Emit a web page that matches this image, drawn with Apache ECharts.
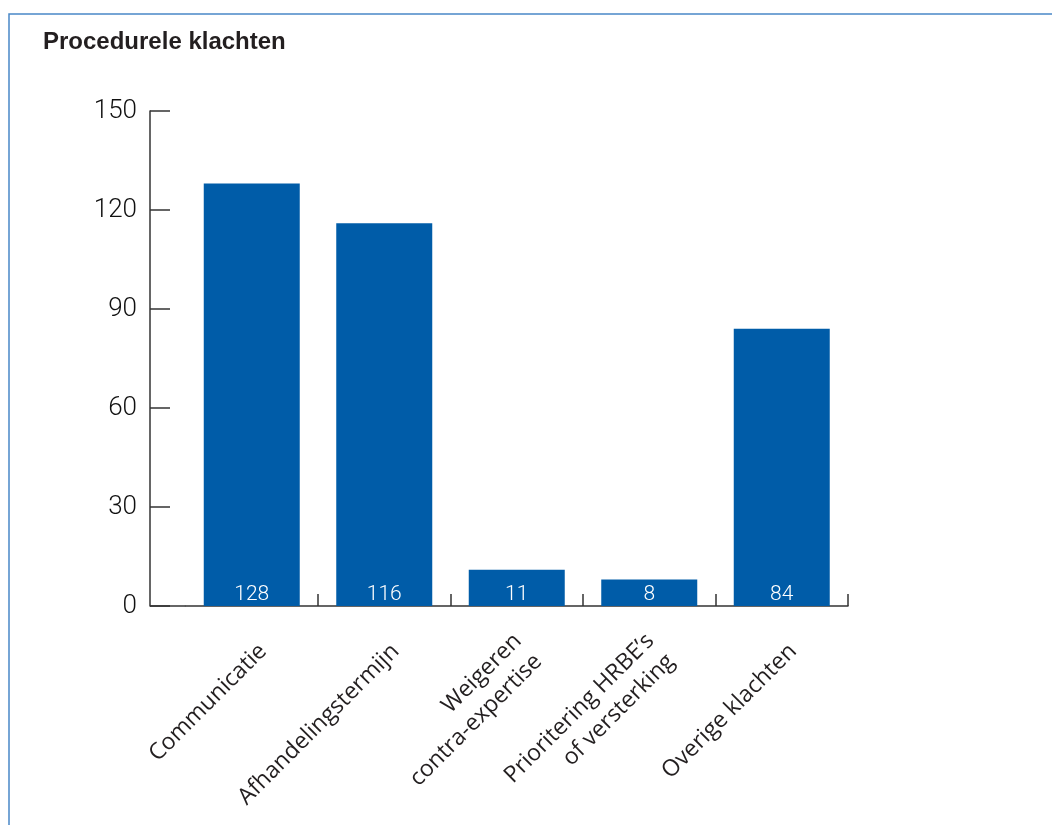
<!DOCTYPE html>
<html>
<head>
<meta charset="utf-8">
<script src="https://cdn.jsdelivr.net/npm/echarts@6/dist/echarts.min.js"></script>
<style>
html,body{margin:0;padding:0;background:#fff;}
#chart{width:1052px;height:825px;}
</style>
</head>
<body>
<div id="chart"></div>
<script>
var categories = ['Communicatie', 'Afhandelingstermijn', 'Weigeren\ncontra-expertise', 'Prioritering HRBE\u2019s\nof versterking', 'Overige klachten'];
var values = [128, 116, 11, 8, 84];
var yTicks = [0, 30, 60, 90, 120, 150];

var GRID_LEFT = 185.5, GRID_RIGHT = 204, GRID_TOP = 111, GRID_BOTTOM = 219, Y_OFFSET = 35.5;
var chart = echarts.init(document.getElementById('chart'), null, {renderer: 'canvas'});
var axisColor = '#333333';
var option = {
  animation: false,
  backgroundColor: '#ffffff',
  title: {
    text: 'Procedurele klachten',
    left: 38, top: 25,
    textStyle: {fontFamily: 'Liberation Sans', fontWeight: 'bold', fontSize: 24, color: '#231f20'}
  },
  graphic: [
    {type: 'rect', silent: true, shape: {x: 9, y: 14, width: 2000, height: 2000},
     style: {fill: 'none', stroke: '#4a88c7', lineWidth: 1.5}},
    {type: 'line', silent: true,
     shape: {x1: GRID_LEFT - Y_OFFSET, y1: 825 - GRID_BOTTOM, x2: GRID_LEFT, y2: 825 - GRID_BOTTOM},
     style: {stroke: axisColor, lineWidth: 1.5}}
  ],
  grid: {left: GRID_LEFT, right: GRID_RIGHT, top: GRID_TOP, bottom: GRID_BOTTOM, containLabel: false},
  xAxis: {
    type: 'category',
    data: categories,
    boundaryGap: true,
    axisLine: {show: true, lineStyle: {color: axisColor, width: 1.5}},
    axisTick: {show: true, inside: true, length: 12, lineStyle: {color: axisColor, width: 1.5},
      interval: function (index) { return index !== 0; }},
    axisLabel: {
      rotate: 45, interval: 0, margin: 53, padding: [0, -16, 0, 0],
      fontFamily: 'Open Sans', fontSize: 23, lineHeight: 29, color: '#231f20'
    }
  },
  yAxis: {
    type: 'value',
    min: yTicks[0], max: yTicks[yTicks.length - 1], interval: 30,
    offset: Y_OFFSET,
    axisLine: {show: true, lineStyle: {color: axisColor, width: 1.5}},
    axisTick: {show: true, inside: true, length: 20, lineStyle: {color: axisColor, width: 1.5}},
    splitLine: {show: false},
    axisLabel: {margin: 13, fontFamily: 'Roboto', fontWeight: 300, fontSize: 26, color: '#111111'}
  },
  series: [{
    type: 'bar',
    data: values,
    barWidth: 96,
    itemStyle: {color: '#005ca8'},
    label: {
      show: true, position: 'insideBottom', distance: 1,
      fontFamily: 'Roboto', fontWeight: 300, fontSize: 21, color: '#ffffff'
    }
  }]
};
chart.setOption(option);
</script>
</body>
</html>
